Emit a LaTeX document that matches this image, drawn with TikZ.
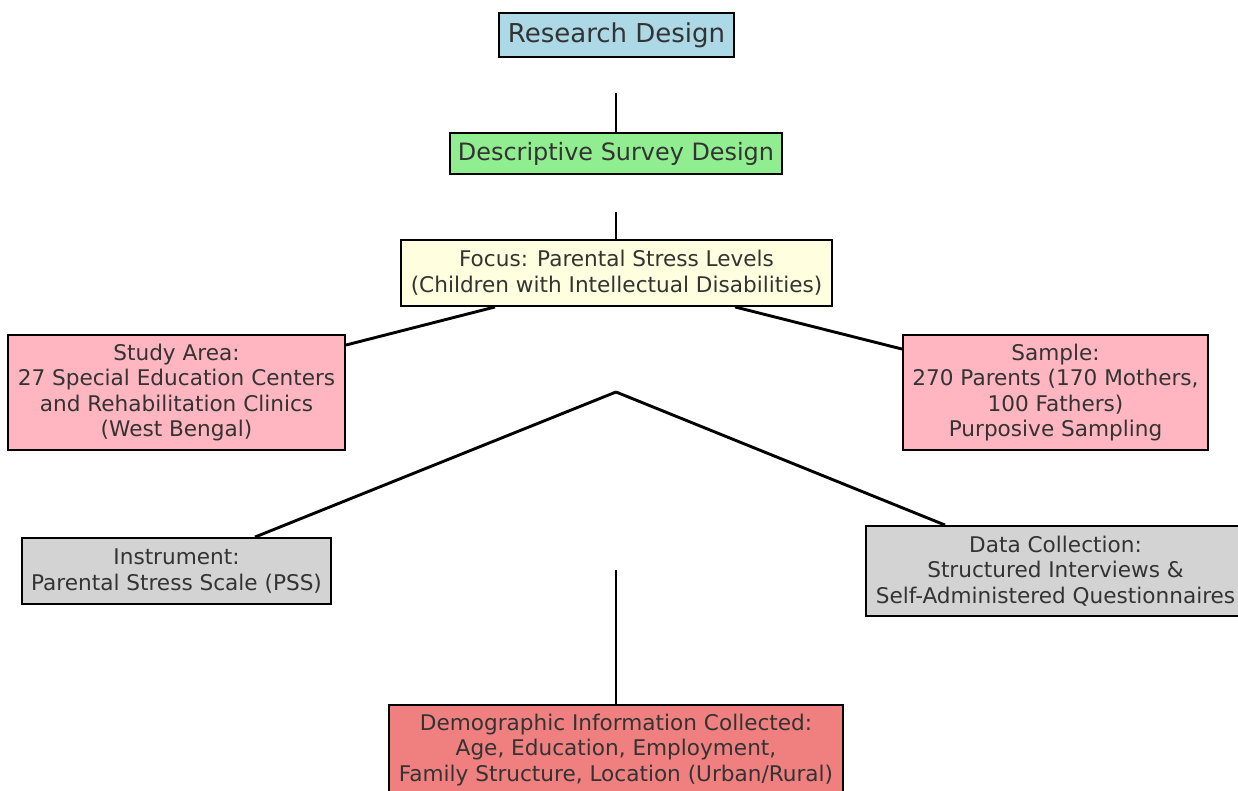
\documentclass[tikz,border=0pt]{standalone}
\usepackage{fontspec}
\setmainfont{DejaVu Sans}
\usepackage{xcolor}
\usepackage{tikz}
\usetikzlibrary{calc}

\definecolor{rdblue}{RGB}{173,216,230}
\definecolor{dsgreen}{RGB}{144,238,144}
\definecolor{fcyellow}{RGB}{255,255,224}
\definecolor{smpink}{RGB}{255,182,193}
\definecolor{ingray}{RGB}{211,211,211}
\definecolor{dmcoral}{RGB}{240,128,128}

\begin{document}
\begin{tikzpicture}[x=1pt, y=-1pt,
  box/.style={draw, line width=1.9pt, align=center, inner sep=0pt, text=black!80,
    font=\fontsize{21.6}{25.6}\selectfont},
  link/.style={line width=2.9pt}]

\useasboundingbox (0,0) rectangle (1238,791);
\clip (0,0) rectangle (1238,791);

\node[box, fill=rdblue, minimum width=235pt, minimum height=44pt, font=\fontsize{26}{30}\selectfont] (rd) at (616.5,35) {Research Design};
\node[box, fill=dsgreen, minimum width=332pt, minimum height=41pt, font=\fontsize{23.9}{28}\selectfont] (dsd) at (616,153.5) {Descriptive Survey Design};
\node[box, fill=fcyellow, minimum width=431pt, minimum height=66pt] (focus) at (616.5,273) {Focus: Parental Stress Levels\\(Children with Intellectual Disabilities)};
\node[box, fill=smpink, minimum width=337pt, minimum height=115pt] (area) at (176.5,392.5) {Study Area:\\27 Special Education Centers\\and Rehabilitation Clinics\\(West Bengal)};
\node[box, fill=smpink, minimum width=305pt, minimum height=115pt] (sample) at (1055.5,392.5) {Sample:\\270 Parents (170 Mothers,\\100 Fathers)\\Purposive Sampling};
\node[box, fill=ingray, minimum width=309pt, minimum height=66pt] (instr) at (176.5,571) {Instrument:\\Parental Stress Scale (PSS)};
\node[box, fill=ingray, minimum width=379pt, minimum height=90pt] (datacoll) at (1055.5,571) {Data Collection:\\Structured Interviews \&\\Self-Administered Questionnaires};
\node[box, fill=dmcoral, minimum width=454pt, minimum height=90pt] (demo) at (616,750) {Demographic Information Collected:\\Age, Education, Employment,\\Family Structure, Location (Urban/Rural)};

\coordinate (rdstem) at (616,93);
\coordinate (dsdstem) at (616,212);
\coordinate (hub) at (616,392);
\coordinate (demostem) at (616,570);

\draw[link] (rdstem) -- (rdstem |- dsd.north);
\draw[link] (dsdstem) -- (dsdstem |- focus.north);
\draw[link] ([xshift=-121.5pt]focus.south) -- ([yshift=-11pt]area.north east);
\draw[link] ([xshift=118.5pt]focus.south) -- ([yshift=-15pt]sample.north west);
\draw[link] (hub) -- ([xshift=78.5pt]instr.north);
\draw[link] (hub) -- ([xshift=-110.5pt]datacoll.north);
\draw[link] (demostem) -- (demostem |- demo.north);

\end{tikzpicture}
\end{document}
